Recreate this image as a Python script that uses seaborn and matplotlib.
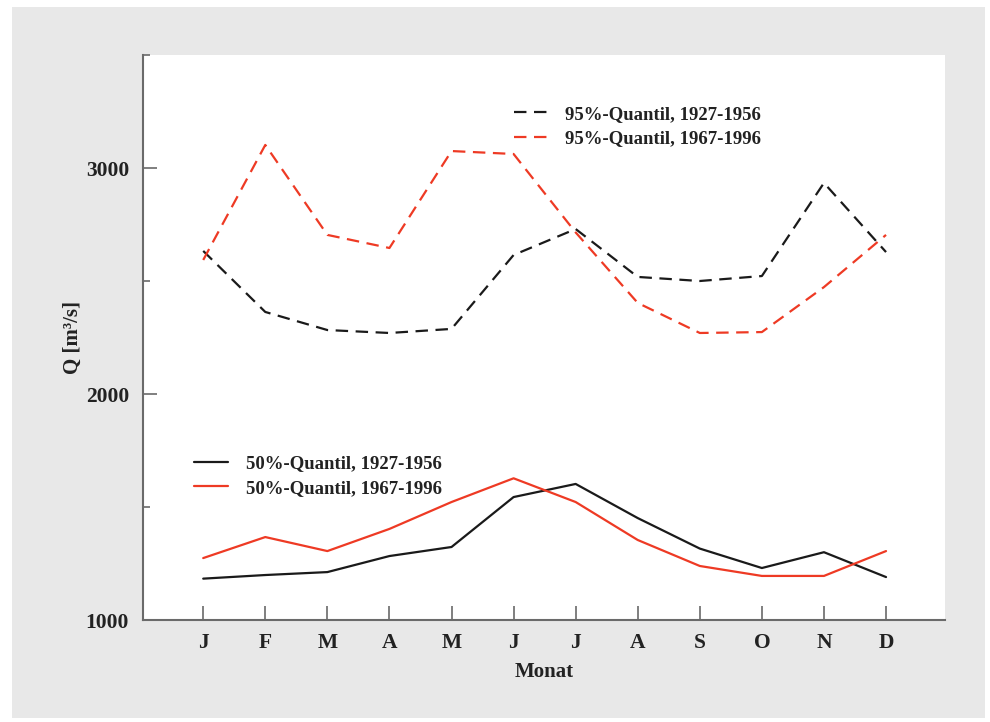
import matplotlib
matplotlib.use("Agg")
import matplotlib.pyplot as plt
from matplotlib.patches import Rectangle
from matplotlib.lines import Line2D
from matplotlib.ticker import MultipleLocator
import numpy as np
import pandas as pd
import seaborn as sns

months = ['J', 'F', 'M', 'A', 'M', 'J', 'J', 'A', 'S', 'O', 'N', 'D']
q95_old = [2633, 2363, 2283, 2270, 2288, 2615, 2730, 2518, 2500, 2522, 2934, 2628]
q95_new = [2593, 3102, 2704, 2646, 3075, 3062, 2715, 2403, 2270, 2274, 2473, 2704]
q50_old = [1183, 1199, 1212, 1283, 1323, 1544, 1602, 1451, 1316, 1230, 1300, 1190]
q50_new = [1274, 1367, 1305, 1403, 1522, 1627, 1522, 1354, 1239, 1195, 1195, 1305]

labels_95 = ['95%-Quantil, 1927-1956', '95%-Quantil, 1967-1996']
labels_50 = ['50%-Quantil, 1927-1956', '50%-Quantil, 1967-1996']

BLACK = '#1a1a1a'
RED = '#ee3a24'
GRAY_BG = '#e8e8e8'
SPINE = '#6a6a6a'
TXT = '#222222'

sns.set_style('ticks')
plt.rcParams['font.family'] = ['Liberation Serif', 'DejaVu Serif']
plt.rcParams['font.weight'] = 'bold'

fig = plt.figure(figsize=(9.9, 7.22), dpi=100)
fig.patch.set_facecolor('white')
bg = Rectangle((12 / 990, 1 - 718 / 722), 973 / 990, 711 / 722,
               transform=fig.transFigure, facecolor=GRAY_BG,
               edgecolor='none', zorder=-10)
fig.patches.append(bg)
ax = fig.add_axes([143 / 990, 1 - 620 / 722, 802 / 990, 565 / 722])
ax.set_zorder(5)
ax.set_facecolor('white')

x = np.arange(len(months))
df = pd.DataFrame({'x': x, 'q95_old': q95_old, 'q95_new': q95_new,
                   'q50_old': q50_old, 'q50_new': q50_new})

dash = (5.6, 3.4)
sns.lineplot(data=df, x='x', y='q95_old', ax=ax, color=BLACK, lw=1.6)
sns.lineplot(data=df, x='x', y='q95_new', ax=ax, color=RED, lw=1.6)
sns.lineplot(data=df, x='x', y='q50_old', ax=ax, color=BLACK, lw=1.6)
sns.lineplot(data=df, x='x', y='q50_new', ax=ax, color=RED, lw=1.6)
ax.lines[0].set_dashes(dash)
ax.lines[1].set_dashes(dash)

ax.set_xlim(-0.97, 11.95)
ax.set_ylim(1000, 3500)
ax.set_xticks(x)
ax.set_xticklabels(months)
ax.set_yticks([1000, 2000, 3000])
ax.yaxis.set_minor_locator(MultipleLocator(500))

ax.tick_params(axis='both', which='major', direction='in', length=10, width=1.2,
               color=SPINE, labelsize=15.5, pad=10)
ax.tick_params(axis='y', which='minor', direction='in', length=5, width=1.2, color=SPINE)
ax.tick_params(axis='x', which='major', pad=9)
for t in ax.get_xticklabels() + ax.get_yticklabels():
    t.set_fontweight('bold')
    t.set_color(TXT)

for s in ['top', 'right']:
    ax.spines[s].set_visible(False)
for s in ['left', 'bottom']:
    ax.spines[s].set_color(SPINE)
    ax.spines[s].set_linewidth(1.5)

ax.set_xlabel('Monat', fontsize=15, fontweight='bold', color=TXT, labelpad=7)
ax.set_ylabel('Q [m³/s]', fontsize=15, fontweight='bold', color=TXT, labelpad=2)

h95 = [Line2D([], [], color=BLACK, lw=1.6, dashes=dash),
       Line2D([], [], color=RED, lw=1.6, dashes=dash)]
leg1 = ax.legend(h95, labels_95, loc='upper left', bbox_to_anchor=(0.441, 0.94),
                 frameon=False, fontsize=13.5, handlelength=1.8, handletextpad=0.95,
                 labelspacing=0.4)
for t in leg1.get_texts():
    t.set_fontweight('bold')
    t.set_color(TXT)
ax.add_artist(leg1)

h50 = [Line2D([], [], color=BLACK, lw=1.6), Line2D([], [], color=RED, lw=1.6)]
leg2 = ax.legend(h50, labels_50, loc='upper left', bbox_to_anchor=(0.043, 0.322),
                 frameon=False, fontsize=13.5, handlelength=1.8, handletextpad=0.95,
                 labelspacing=0.4)
for t in leg2.get_texts():
    t.set_fontweight('bold')
    t.set_color(TXT)

fig.savefig('out.png', dpi=100, facecolor=fig.get_facecolor())
